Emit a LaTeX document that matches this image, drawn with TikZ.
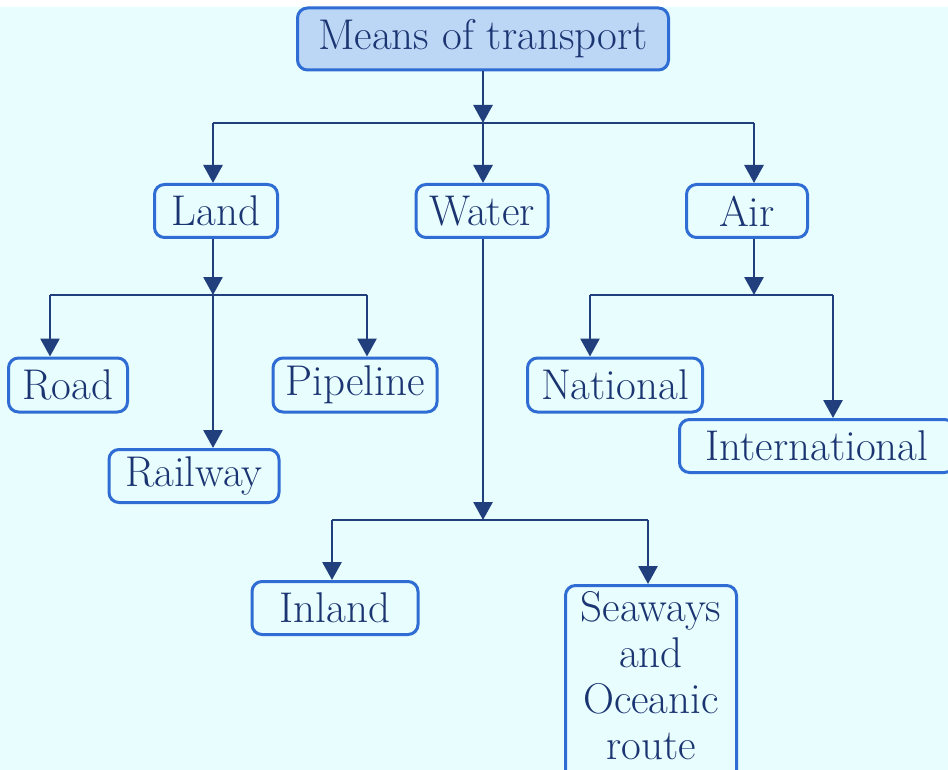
\documentclass[tikz,border=0pt]{standalone}
\usetikzlibrary{arrows.meta}
\definecolor{bg}{HTML}{E8FDFD}
\definecolor{boxline}{HTML}{2F6CD3}
\definecolor{topfill}{HTML}{BCD7F6}
\definecolor{txt}{HTML}{1B3572}
\definecolor{conn}{HTML}{213F7C}
\begin{document}
\begin{tikzpicture}[x=1pt,y=-1pt,
  lbl/.style={text=txt, font=\fontsize{43}{46}\selectfont, inner sep=0pt, align=center},
  box/.style={lbl, draw=boxline, line width=3pt, rounded corners=10pt, fill=bg},
  link/.style={draw=conn, line width=2.8pt},
  arr/.style={link, -{Triangle[width=19pt,length=18pt]}}]
\useasboundingbox (0,0) rectangle (948,770);
\fill[bg] (0,0) rectangle (948,770);
\clip (0,0) rectangle (948,770);
\fill[white] (0,0) rectangle (948,7);

% nodes
\node[box, fill=topfill, minimum width=371pt, minimum height=62pt] (mt) at (483,39) {Means of transport};
\node[box, minimum width=123pt, minimum height=53pt] (land) at (216,211) {Land};
\node[box, minimum width=132pt, minimum height=53pt] (water) at (482,211) {Water};
\node[box, minimum width=121pt, minimum height=53pt] (air) at (747,211) {Air};
\node[box, minimum width=119pt, minimum height=54pt] (road) at (68,385) {Road};
\node[box, minimum width=164pt, minimum height=54pt] (pipe) at (355,385) {Pipeline};
\node[box, minimum width=170pt, minimum height=53pt] (rail) at (194,476) {Railway};
\node[box, minimum width=175pt, minimum height=54pt] (nat) at (615,385) {National};
\node[box, minimum width=275pt, minimum height=53pt] (intl) at (817,446) {International};
\node[box, minimum width=166pt, minimum height=53pt] (inland) at (335,608) {Inland};
\node[box, minimum width=171pt, minimum height=200pt, anchor=north] (sea) at (651,584) {};
\node[lbl, anchor=north] (seatxt) at ([yshift=-7pt]sea.north) {Seaways\\and\\Oceanic\\route};

% junctions
\coordinate (j0) at (483,123);
\coordinate (jl) at (213,123);
\coordinate (jr) at (754,123);
\coordinate (j1) at (213,295);
\coordinate (rd) at (50,295);
\coordinate (pl) at (367,295);
\coordinate (j2) at (754,295);
\coordinate (na) at (590,295);
\coordinate (it) at (833,295);
\coordinate (j3) at (483,520);
\coordinate (il) at (332,520);
\coordinate (sw) at (648,520);

% top level
\draw[arr] (mt.south) -- (j0);
\draw[link] (jl) -- (jr);
\draw[arr] (jl) -- (jl |- land.north);
\draw[arr] (j0) -- (j0 |- water.north);
\draw[arr] (jr) -- (jr |- air.north);

% land
\draw[arr] (j1 |- land.south) -- (j1);
\draw[link] (rd) -- (pl);
\draw[arr] (rd) -- (rd |- road.north);
\draw[arr] (pl) -- (pl |- pipe.north);
\draw[arr] (j1) -- (j1 |- rail.north);

% air
\draw[arr] (j2 |- air.south) -- (j2);
\draw[link] (na) -- (it);
\draw[arr] (na) -- (na |- nat.north);
\draw[arr] (it) -- (it |- intl.north);

% water
\draw[arr] (j3 |- water.south) -- (j3);
\draw[link] (il) -- (sw);
\draw[arr] (il) -- (il |- inland.north);
\draw[arr] (sw) -- (sw |- sea.north);
\end{tikzpicture}
\end{document}
